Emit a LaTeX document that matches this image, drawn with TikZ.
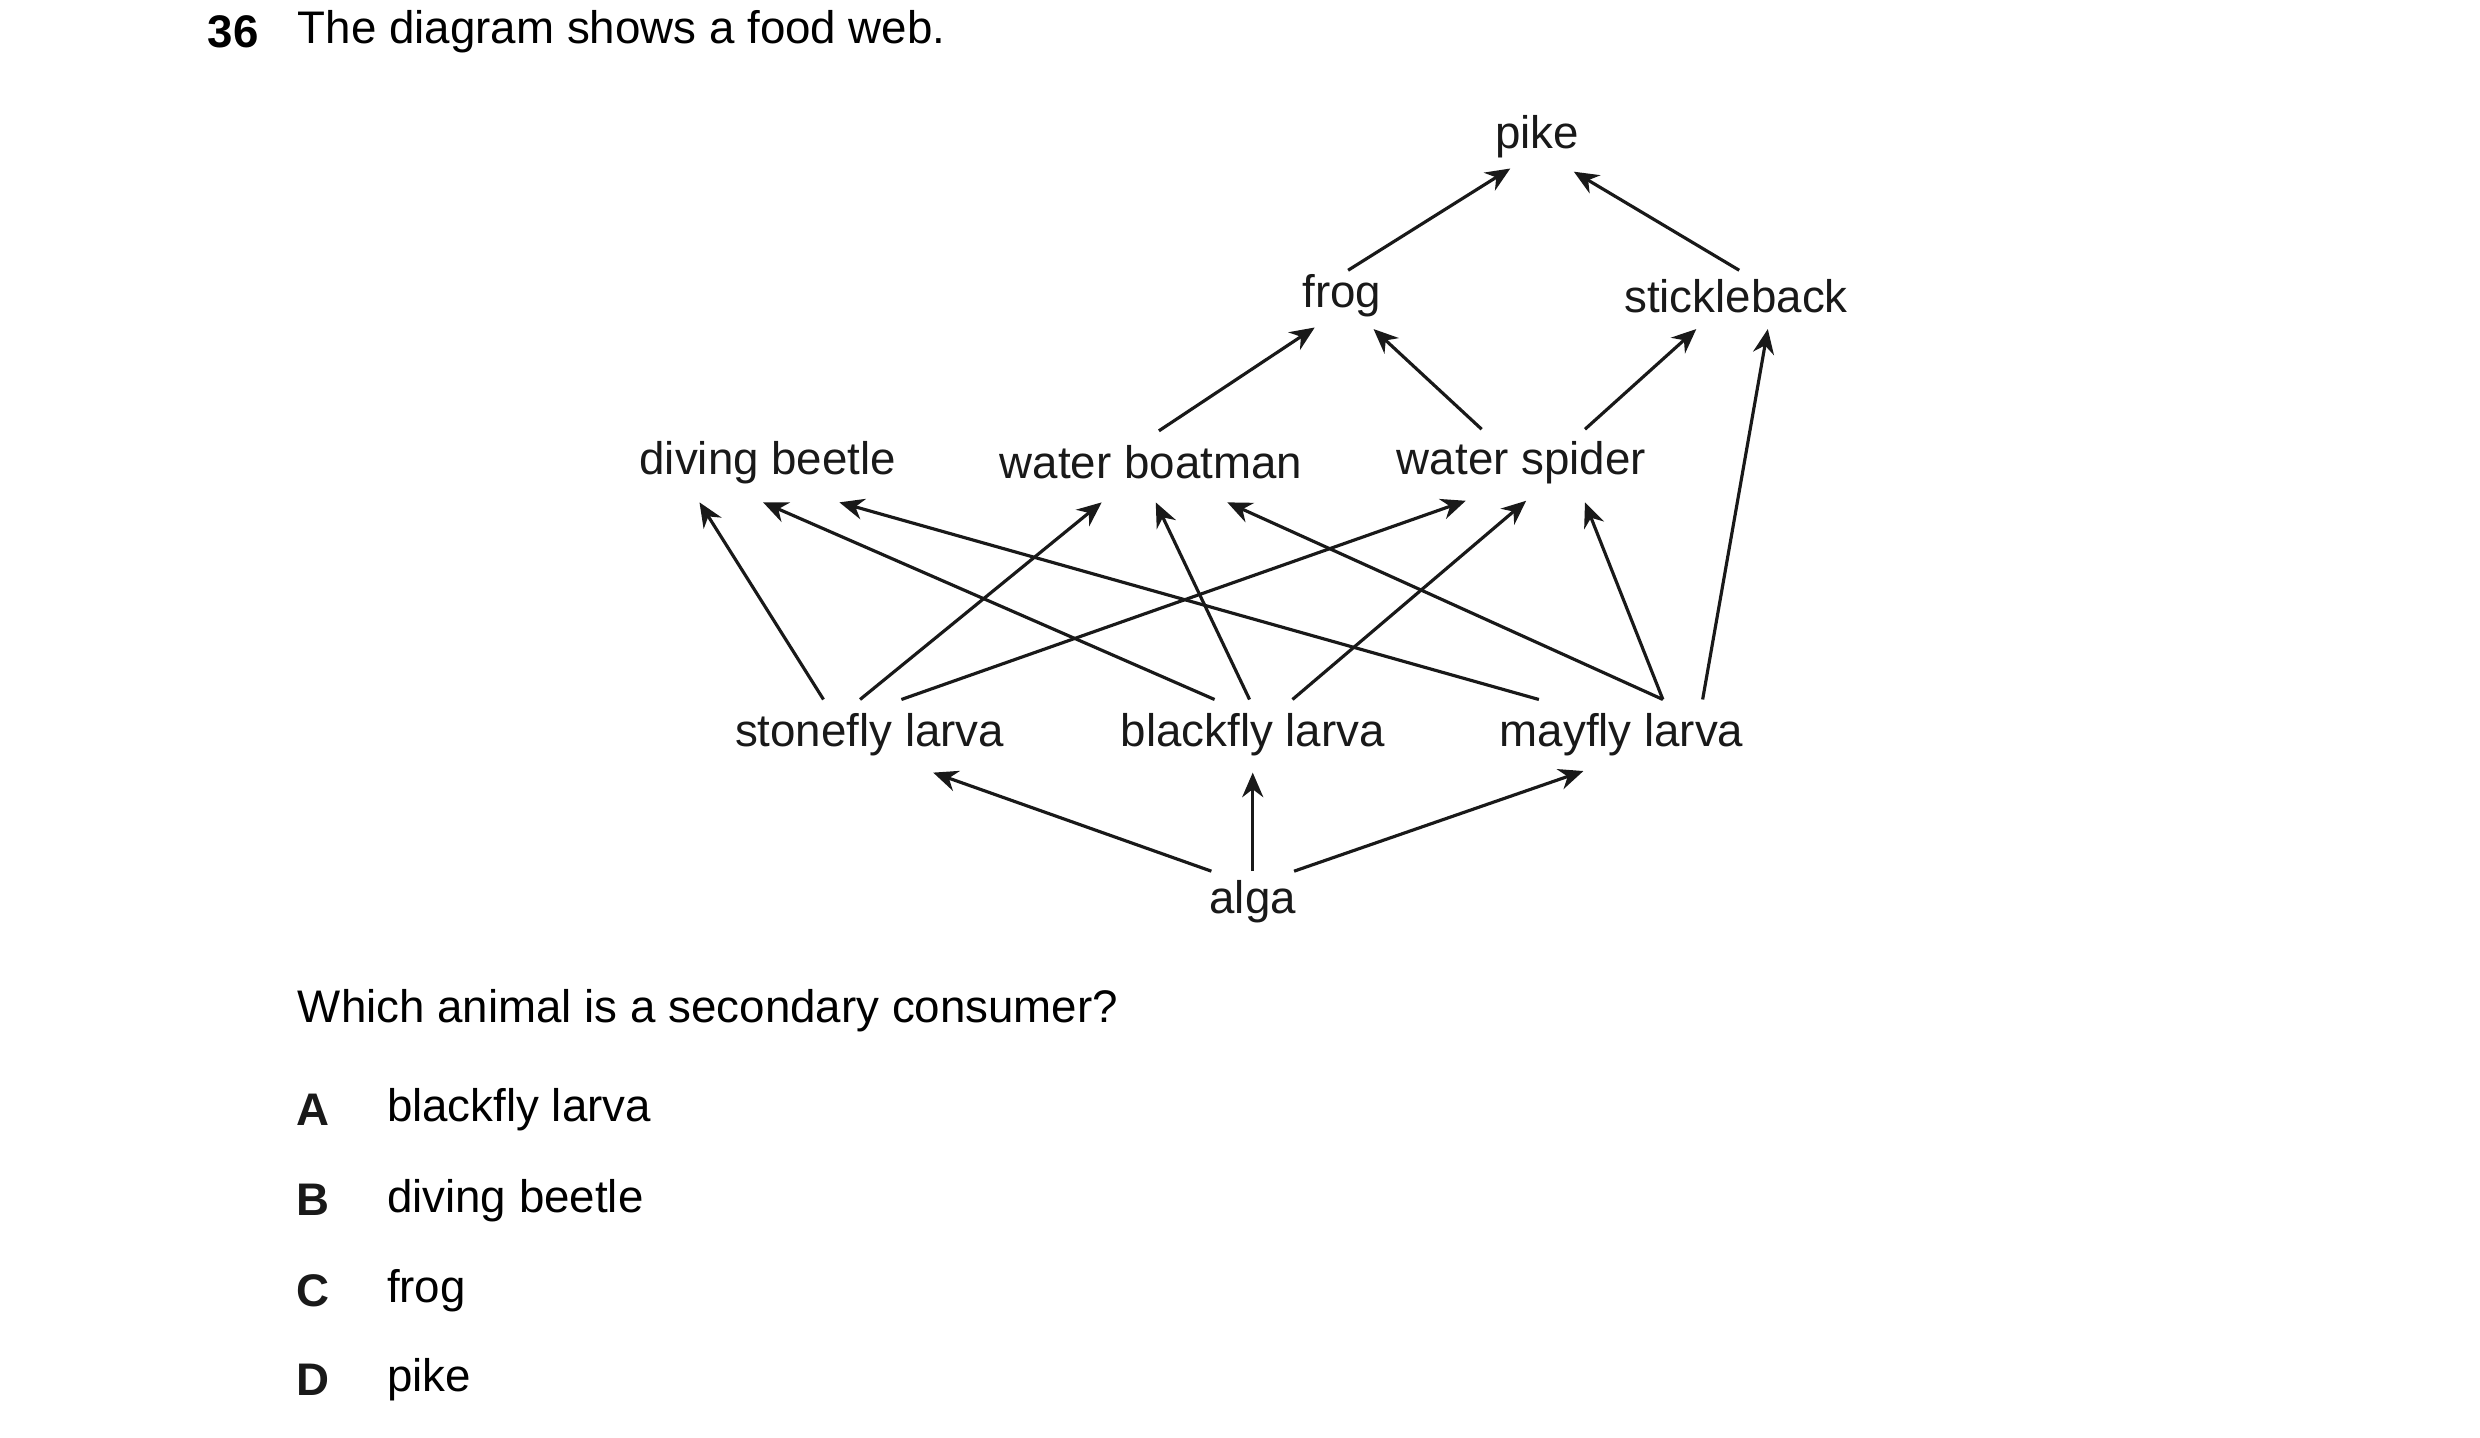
\documentclass[tikz,border=0pt]{standalone}
\usepackage{fontspec}
\setmainfont{Liberation Sans}
\usetikzlibrary{positioning,calc,arrows.meta}
\tikzstyle{organism}=[inner sep=0pt, text=black!90, font=\fontsize{13}{15}\selectfont]
\tikzstyle{plain}=[inner sep=0pt, anchor=west, font=\fontsize{13}{15}\selectfont]
\tikzstyle{eats}=[line width=0.9pt, black!90, -{Stealth[length=7pt,width=6pt]}]

\begin{document}
\begin{tikzpicture}[x=0.0159cm, y=-0.0159cm]
        \useasboundingbox (0,0) rectangle (1560,904);
        % question
        \node (num) [plain, anchor=east, font=\bfseries\fontsize{13}{15}\selectfont] at (163,20) {36};
        \node (title) [plain] at (187,20) {The diagram shows a food web.};
        % food web
        \node (pike) [organism] at (967,86) {pike};
        \node (frog) [organism] at (844,186) {frog};
        \node (stickleback) [organism] at (1092,186) {stickleback};
        \node (beetle) [organism] at (483,291) {diving beetle};
        \node (boatman) [organism] at (724,291) {water boatman};
        \node (spider) [organism] at (957,291) {water spider};
        \node (stonefly) [organism] at (547,462) {stonefly larva};
        \node (blackfly) [organism] at (788,462) {blackfly larva};
        \node (mayfly) [organism] at (1020,462) {mayfly larva};
        \node (alga) [organism] at (788,567) {alga};

        \draw[eats] ($(frog)+(4,-16)$) -- ($(pike)+(-17,20)$);
        \draw[eats] ($(stickleback)+(2,-16)$) -- ($(pike)+(23,22)$);
        \draw[eats] ($(boatman)+(5,-20)$) -- ($(frog)+(-17,20)$);
        \draw[eats] ($(spider)+(-25,-21)$) -- ($(frog)+(20,21)$);
        \draw[eats] ($(spider)+(40,-21)$) -- ($(stickleback)+(-25,21)$);
        \draw[eats] ($(mayfly)+(51,-22)$) -- ($(stickleback)+(20,21)$);
        \draw[eats] ($(stonefly)+(-29,-22)$) -- ($(beetle)+(-43,25)$);
        \draw[eats] ($(blackfly)+(-24,-22)$) -- ($(beetle)+(-3,25)$);
        \draw[eats] ($(mayfly)+(-52,-22)$) -- ($(beetle)+(45,25)$);
        \draw[eats] ($(stonefly)+(-6,-22)$) -- ($(boatman)+(-31,25)$);
        \draw[eats] ($(blackfly)+(-2,-22)$) -- ($(boatman)+(3,25)$);
        \draw[eats] ($(mayfly)+(26,-22)$) -- ($(boatman)+(48,25)$);
        \draw[eats] ($(stonefly)+(20,-22)$) -- ($(spider)+(-35,24)$);
        \draw[eats] ($(blackfly)+(25,-22)$) -- ($(spider)+(3,24)$);
        \draw[eats] ($(mayfly)+(26,-22)$) -- ($(spider)+(40,25)$);
        \draw[eats] ($(alga)+(-26,-19)$) -- ($(stonefly)+(40,24)$);
        \draw[eats] ($(alga)+(0,-19)$) -- ($(blackfly)+(0,24)$);
        \draw[eats] ($(alga)+(26,-19)$) -- ($(mayfly)+(-24,23)$);

        % answers
        \node (question) [plain] at (187,636) {Which animal is a secondary consumer?};
        \foreach \letter/\answer/\y in {A/blackfly larva/698, B/diving beetle/755, C/frog/812, D/pike/868}
        {
          \node (opt\letter) [organism, font=\bfseries\fontsize{13}{15}\selectfont] at (197,\y) {\letter};
          \node (ans\letter) [plain] at (243,\y) {\answer};
        }
      \end{tikzpicture}
\end{document}
